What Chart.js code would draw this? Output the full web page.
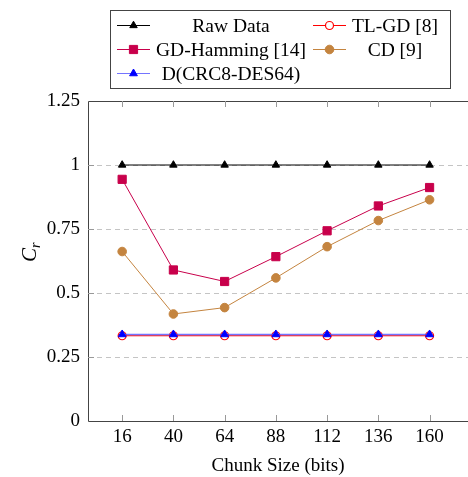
<!DOCTYPE html>
<html>
<head>
<meta charset="utf-8">
<script src="https://cdn.jsdelivr.net/npm/chart.js@4.4.1/dist/chart.umd.min.js"></script>
<style>
  html, body { margin: 0; padding: 0; background: #fff; overflow: hidden; }
  #wrap { width: 468px; height: 477px; position: relative; }
  #crChart { display: block; }
  .preload { font-family: "Liberation Serif"; position: absolute; left: -999px; top: 0; }
</style>
</head>
<body>
<span class="preload">0.25 Chunk <i>C</i></span>
<div id="wrap"><canvas id="crChart" width="468" height="477"></canvas></div>
<script>
// Compression ratio per chunk size
const chunkSizes = [16, 40, 64, 88, 112, 136, 160];
const yTicks = [0, 0.25, 0.5, 0.75, 1, 1.25];
const seriesNames = ["Raw Data", "TL-GD [8]", "GD-Hamming [14]", "CD [9]", "D(CRC8-DES64)"];
const rawData = [1, 1, 1, 1, 1, 1, 1];
const tlGd = [0.333, 0.333, 0.333, 0.333, 0.333, 0.333, 0.333];
const gdHamming = [0.944, 0.59, 0.545, 0.642, 0.743, 0.84, 0.912];
const cd = [0.662, 0.418, 0.443, 0.559, 0.681, 0.783, 0.864];
const dCrc = [0.338, 0.338, 0.338, 0.338, 0.338, 0.338, 0.338];

const SERIF = '"Liberation Serif", "Times New Roman", serif';
const AXIS = "#444";

function toPoints(values) {
  return chunkSizes.map((x, i) => ({ x: x, y: values[i] }));
}

// no extra label padding: the plot runs to the right edge of the canvas
function noPadding(scale) {
  scale.paddingLeft = 0;
  scale.paddingRight = 0;
}

// frame, inner ticks, y label and the boxed two-column legend
const pgfDecor = {
  id: "pgfDecor",
  afterDraw(chart) {
    const { ctx, chartArea: a, scales } = chart;
    ctx.save();
    ctx.strokeStyle = AXIS;
    ctx.lineWidth = 1;
    ctx.beginPath();
    ctx.moveTo(a.right + 1, a.top + 0.5);
    ctx.lineTo(a.left + 0.5, a.top + 0.5);
    ctx.lineTo(a.left + 0.5, a.bottom + 0.5);
    ctx.lineTo(a.right + 1, a.bottom + 0.5);
    ctx.stroke();

    ctx.strokeStyle = "#999";
    ctx.beginPath();
    chunkSizes.forEach((v) => {
      const x = Math.round(scales.x.getPixelForValue(v)) + 0.5;
      ctx.moveTo(x, a.bottom);
      ctx.lineTo(x, a.bottom - 6);
      ctx.moveTo(x, a.top);
      ctx.lineTo(x, a.top + 6);
    });
    yTicks.slice(1, -1).forEach((v) => {
      const y = Math.round(scales.y.getPixelForValue(v)) + 0.5;
      ctx.moveTo(a.left, y);
      ctx.lineTo(a.left + 6, y);
    });
    ctx.stroke();

    // y axis label C_r
    ctx.save();
    ctx.translate(36, 262);
    ctx.rotate(-Math.PI / 2);
    ctx.fillStyle = "#000";
    ctx.textBaseline = "alphabetic";
    ctx.textAlign = "left";
    ctx.font = "italic 21px " + SERIF;
    ctx.fillText("C", 0, 0);
    const w = ctx.measureText("C").width;
    ctx.font = "italic 14px " + SERIF;
    ctx.fillText("r", w, 4);
    ctx.restore();

    // legend
    const box = { left: 110.5, top: 10.5, right: 450.5, bottom: 88.5 };
    ctx.strokeStyle = AXIS;
    ctx.strokeRect(box.left, box.top, box.right - box.left, box.bottom - box.top);
    const cols = [{ line: 117, text: 231 }, { line: 313, text: 395 }];
    const rows = [25, 49, 73];
    chart.data.datasets.forEach((ds, i) => {
      const col = cols[i % 2];
      const y = rows[Math.floor(i / 2)] + 0.5;
      ctx.strokeStyle = ds.borderColor;
      ctx.lineWidth = 1;
      ctx.beginPath();
      ctx.moveTo(col.line, y);
      ctx.lineTo(col.line + 33, y);
      ctx.stroke();
      ctx.fillStyle = ds.pointBackgroundColor;
      ctx.strokeStyle = ds.pointBorderColor;
      ctx.lineWidth = ds.pointBorderWidth;
      Chart.helpers.drawPoint(ctx, {
        pointStyle: ds.pointStyle,
        radius: ds.pointRadius,
        rotation: 0,
        borderWidth: ds.pointBorderWidth
      }, col.line + 16.5, y);
      ctx.fillStyle = "#000";
      ctx.font = "19.5px " + SERIF;
      ctx.textAlign = "center";
      ctx.textBaseline = "middle";
      ctx.fillText(ds.label, col.text, y + 1);
    });
    ctx.restore();
  }
};

function initCrChart() {
  const ctx = document.getElementById("crChart");
  if (!ctx) return;

  new Chart(ctx, {
    type: "line",
    data: {
      datasets: [
        {
          label: seriesNames[0],
          data: toPoints(rawData),
          borderColor: "#000",
          borderWidth: 1,
          pointStyle: "triangle",
          pointRadius: 4.3,
          pointBackgroundColor: "#000",
          pointBorderColor: "#000",
          pointBorderWidth: 1,
          order: 2
        },
        {
          label: seriesNames[1],
          data: toPoints(tlGd),
          borderColor: "#ff0000",
          borderWidth: 1.2,
          pointStyle: "circle",
          pointRadius: 4,
          pointBackgroundColor: "#fff",
          pointBorderColor: "#ff0000",
          pointBorderWidth: 1.2,
          order: 3
        },
        {
          label: seriesNames[2],
          data: toPoints(gdHamming),
          borderColor: "#c8004b",
          borderWidth: 1,
          pointStyle: "rect",
          pointRadius: 5.8,
          pointBackgroundColor: "#c8004b",
          pointBorderColor: "#c8004b",
          pointBorderWidth: 1,
          order: 2
        },
        {
          label: seriesNames[3],
          data: toPoints(cd),
          borderColor: "#c4843f",
          borderWidth: 1,
          pointStyle: "circle",
          pointRadius: 4.3,
          pointBackgroundColor: "#c4843f",
          pointBorderColor: "#c4843f",
          pointBorderWidth: 1,
          order: 2
        },
        {
          label: seriesNames[4],
          data: toPoints(dCrc),
          borderColor: "rgba(70,70,255,0.75)",
          borderWidth: 1.5,
          pointStyle: "triangle",
          pointRadius: 4.5,
          pointBackgroundColor: "#0000ff",
          pointBorderColor: "#0000ff",
          pointBorderWidth: 1,
          order: 1
        }
      ]
    },
    options: {
      responsive: false,
      animation: false,
      layout: { autoPadding: false, padding: { top: 101, right: 0, left: 0, bottom: 0 } },
      plugins: {
        legend: { display: false },
        tooltip: { enabled: false }
      },
      scales: {
        x: {
          type: "linear",
          min: 0,
          max: 178,
          afterBuildTicks: (scale) => {
            scale.ticks = chunkSizes.map((v) => ({ value: v }));
          },
          afterFit: (scale) => {
            scale.height = 56;
            noPadding(scale);
          },
          grid: { display: false, drawTicks: false },
          border: { display: false },
          ticks: {
            autoSkip: false,
            maxRotation: 0,
            padding: 5,
            color: "#000",
            font: { family: SERIF, size: 19 },
            callback: (v) => String(v)
          },
          title: {
            display: true,
            text: "Chunk Size (bits)",
            color: "#000",
            font: { family: SERIF, size: 19 },
            padding: { top: 2, bottom: 0 }
          }
        },
        y: {
          min: 0,
          max: 1.25,
          afterBuildTicks: (scale) => {
            scale.ticks = yTicks.map((v) => ({ value: v }));
          },
          afterFit: (scale) => {
            scale.width = 88;
          },
          grid: {
            drawTicks: false,
            lineWidth: 1,
            color: (c) => (c.tick && (c.tick.value === 0 || c.tick.value === 1.25)) ? "rgba(0,0,0,0)" : "#c4c4c4"
          },
          border: { display: false, dash: [5, 4] },
          ticks: {
            padding: 8,
            color: "#000",
            font: { family: SERIF, size: 19 },
            callback: (v) => String(v)
          }
        }
      }
    },
    plugins: [pgfDecor]
  });
}

document.addEventListener("DOMContentLoaded", () => {
  const wait = document.fonts
    ? Promise.all([
        document.fonts.load('19px "Liberation Serif"'),
        document.fonts.load('italic 21px "Liberation Serif"')
      ]).catch(() => null)
    : Promise.resolve();
  wait.then(() => initCrChart());
});
</script>
</body>
</html>
